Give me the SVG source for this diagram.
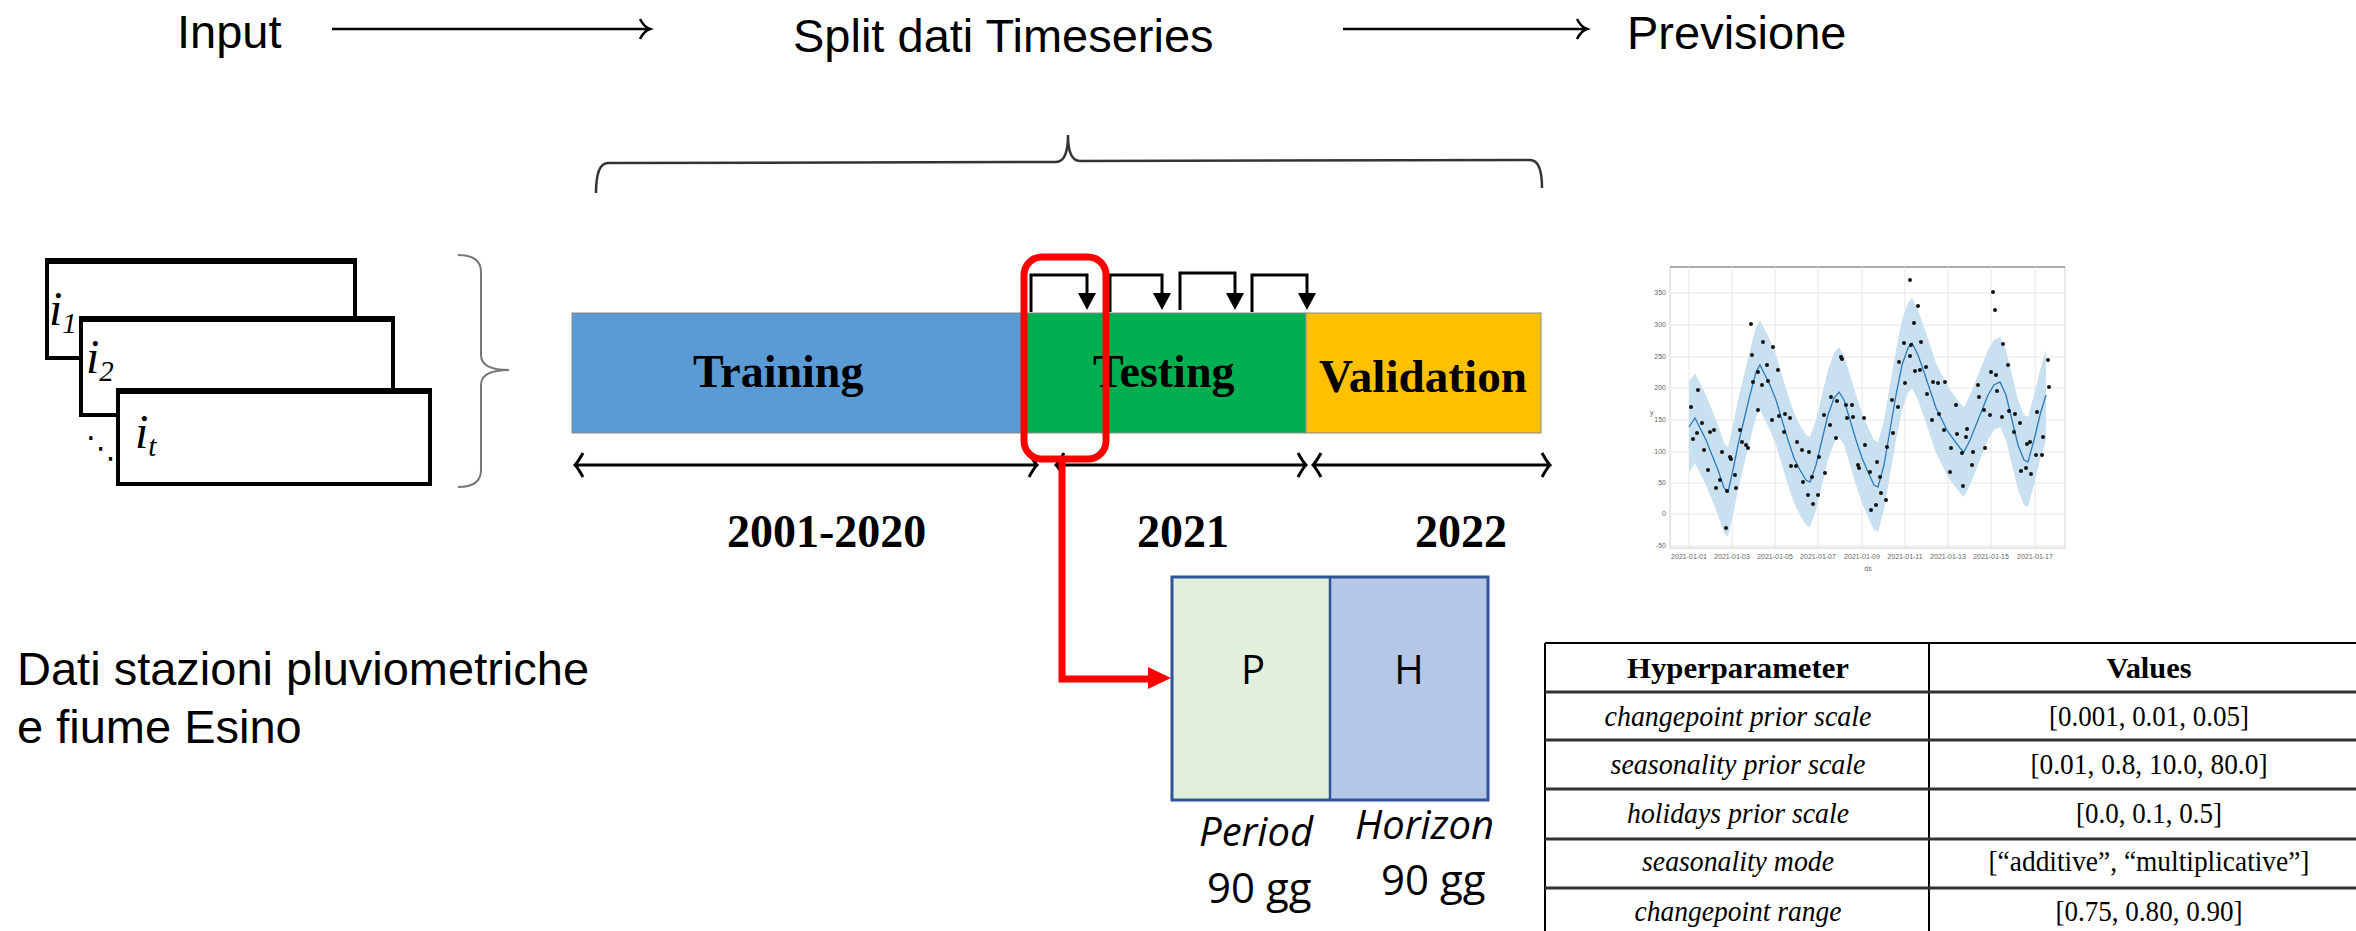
<svg xmlns="http://www.w3.org/2000/svg" width="2356" height="931" viewBox="0 0 2356 931">
<style>
.hdr{font-family:"Liberation Sans",Arial,sans-serif;font-size:47px;fill:#000}
.bar{font-family:"Liberation Serif","Times New Roman",serif;font-weight:bold;font-size:46px;fill:#000}
.ital{font-family:"Liberation Serif","Times New Roman",serif;font-style:italic;fill:#000}
.cal{font-family:"Open Sans","Liberation Sans",sans-serif;fill:#000}
.tb{font-family:"Liberation Serif","DejaVu Serif",serif;font-size:29px;fill:#000;text-anchor:middle}
.tick{font-family:"Liberation Sans",Arial,sans-serif;font-size:7px;fill:#666}
.thin{fill:none;stroke:#000;stroke-width:2.5}
.dbl{fill:none;stroke:#000;stroke-width:3}
.step{fill:none;stroke:#000;stroke-width:3}
.box{fill:#fff;stroke:#000;stroke-width:4}
.grid{stroke:#e6e6e6;stroke-width:1}
.tl{stroke:#333;stroke-width:3}
</style>
<rect width="2356" height="931" fill="#fff"/>

<g id="title-input"><text class="hdr" x="177" y="48">Input</text></g>
<g id="title-split"><text class="hdr" x="793" y="52">Split dati Timeseries</text></g>
<g id="title-previsione"><text class="hdr" x="1627" y="49">Previsione</text></g>

<g id="connectors">
  <path class="thin" d="M332,29 H650 M640,19 Q644,27 650,29 Q644,31 640,39"/>
  <path class="thin" d="M1343,29 H1587 M1577,19 Q1581,27 1587,29 Q1581,31 1577,39"/>
  <path fill="none" stroke="#333" stroke-width="2.5" d="M596,193 Q596,163 608,163 L1056,162 Q1068,162 1068,135 Q1068,161 1080,161 L1530,160 Q1542,160 1542,188"/>
  <path fill="none" stroke="#777" stroke-width="2" d="M458,255 Q481,255 481,272 L481,355 Q481,370 509,370 Q481,370 481,385 L481,470 Q481,487 458,487"/>
  <path class="dbl" d="M575,465 H1037 M583,453 Q578,462 575,465 Q578,468 583,477 M1029,453 Q1034,462 1037,465 Q1034,468 1029,477"/>
  <path class="dbl" d="M1056,465 H1306 M1064,453 Q1059,462 1056,465 Q1059,468 1064,477 M1298,453 Q1303,462 1306,465 Q1303,468 1298,477"/>
  <path class="dbl" d="M1313,465 H1550 M1321,453 Q1316,462 1313,465 Q1316,468 1321,477 M1542,453 Q1547,462 1550,465 Q1547,468 1542,477"/>
</g>

<g id="input-stack">
  <rect class="box" x="47" y="260" width="308" height="98"/>
  <line x1="45" y1="261" x2="357" y2="261" stroke="#000" stroke-width="6"/>
  <rect class="box" x="81" y="318" width="312" height="97"/>
  <line x1="79" y1="319" x2="395" y2="319" stroke="#000" stroke-width="6"/>
  <rect class="box" x="118" y="390" width="312" height="94"/>
  <line x1="116" y1="391" x2="432" y2="391" stroke="#000" stroke-width="6"/>
  <text class="ital" x="49" y="325" font-size="48">i<tspan font-size="29" dy="8">1</tspan></text>
  <text class="ital" x="86" y="373" font-size="48">i<tspan font-size="29" dy="8">2</tspan></text>
  <text class="ital" x="135" y="448" font-size="48">i<tspan font-size="29" dy="8">t</tspan></text>
  <text x="86" y="458" font-family="DejaVu Sans,sans-serif" font-size="30">⋱</text>
</g>

<g id="timeline-bar">
  <rect id="training" x="572" y="313" width="454" height="120" fill="#5B9BD5" stroke="#8a8a8a" stroke-width="1"/>
  <rect id="testing" x="1026" y="313" width="280" height="120" fill="#00B050" stroke="#8a8a8a" stroke-width="1"/>
  <rect id="validation" x="1306" y="313" width="235" height="120" fill="#FFC000" stroke="#8a8a8a" stroke-width="1"/>
  <text class="bar" x="693" y="387">Training</text>
  <text class="bar" x="1093" y="387">Testing</text>
  <text class="bar" x="1319" y="392" textLength="208" lengthAdjust="spacingAndGlyphs">Validation</text>
</g>

<g id="step-arrows">
  <path class="step" d="M1031,312 V275 H1087 V294"/><path d="M1078,293 H1096 L1087,310 Z"/>
  <path class="step" d="M1110,312 V275 H1162 V294"/><path d="M1153,293 H1171 L1162,310 Z"/>
  <path class="step" d="M1180,310 V273 H1235 V294"/><path d="M1226,293 H1244 L1235,310 Z"/>
  <path class="step" d="M1252,312 V275 H1307 V294"/><path d="M1298,293 H1316 L1307,310 Z"/>
</g>

<g id="years">
  <text class="bar" x="727" y="547">2001-2020</text>
  <text class="bar" x="1137" y="547">2021</text>
  <text class="bar" x="1415" y="547">2022</text>
</g>

<g id="red-window">
  <rect x="1024" y="257" width="82" height="202" rx="18" fill="none" stroke="#FF0000" stroke-width="7"/>
</g>
<g id="red-connector">
  <path d="M1062,459 V679 H1150" fill="none" stroke="#FF0000" stroke-width="7"/>
  <path d="M1148,667 L1171,678 L1148,689 Z" fill="#FF0000"/>
</g>

<g id="period-horizon">
  <rect x="1172" y="577" width="158" height="223" fill="#E2EFDA"/>
  <rect x="1330" y="577" width="158" height="223" fill="#B4C7E7"/>
  <rect x="1172" y="577" width="316" height="223" fill="none" stroke="#2F5597" stroke-width="3"/>
  <line x1="1330" y1="577" x2="1330" y2="800" stroke="#2F5597" stroke-width="2.5"/>
  <text class="cal" x="1253" y="684" font-size="40" text-anchor="middle">P</text>
  <text class="cal" x="1409" y="684" font-size="40" text-anchor="middle">H</text>
  <text class="cal" x="1199" y="846" font-size="40" font-style="italic">Period</text>
  <text class="cal" x="1355" y="839" font-size="40" font-style="italic">Horizon</text>
  <text class="cal" x="1207" y="903" font-size="42">90 gg</text>
  <text class="cal" x="1381" y="895" font-size="42">90 gg</text>
</g>

<g id="source-label">
  <text class="hdr" x="17" y="685">Dati stazioni pluviometriche</text>
  <text class="hdr" x="17" y="743">e fiume Esino</text>
</g>

<g id="forecast-plot">
  <rect x="1670" y="267" width="395" height="281" fill="#fff" stroke="#d0d0d0" stroke-width="1"/>
  <line x1="1670" y1="267" x2="2065" y2="267" stroke="#aaa" stroke-width="2"/>
  <g class="grid">
    <line x1="1670" y1="293" x2="2065" y2="293"/><line x1="1670" y1="325" x2="2065" y2="325"/>
    <line x1="1670" y1="357" x2="2065" y2="357"/><line x1="1670" y1="388" x2="2065" y2="388"/>
    <line x1="1670" y1="420" x2="2065" y2="420"/><line x1="1670" y1="452" x2="2065" y2="452"/>
    <line x1="1670" y1="483" x2="2065" y2="483"/><line x1="1670" y1="514" x2="2065" y2="514"/>
    <line x1="1670" y1="546" x2="2065" y2="546"/>
    <line x1="1689" y1="267" x2="1689" y2="548"/><line x1="1732" y1="267" x2="1732" y2="548"/>
    <line x1="1775" y1="267" x2="1775" y2="548"/><line x1="1818" y1="267" x2="1818" y2="548"/>
    <line x1="1862" y1="267" x2="1862" y2="548"/><line x1="1905" y1="267" x2="1905" y2="548"/>
    <line x1="1948" y1="267" x2="1948" y2="548"/><line x1="1991" y1="267" x2="1991" y2="548"/>
    <line x1="2035" y1="267" x2="2035" y2="548"/>
  </g>
  <g text-anchor="end" class="tick">
    <text x="1666" y="295">350</text><text x="1666" y="327">300</text><text x="1666" y="359">250</text>
    <text x="1666" y="390">200</text><text x="1666" y="422">150</text><text x="1666" y="454">100</text>
    <text x="1666" y="485">50</text><text x="1666" y="516">0</text><text x="1666" y="548">-50</text>
  </g>
  <text class="tick" x="1650" y="415">y</text>
  <g text-anchor="middle" class="tick">
    <text x="1689" y="559">2021-01-01</text><text x="1732" y="559">2021-01-03</text><text x="1775" y="559">2021-01-05</text>
    <text x="1818" y="559">2021-01-07</text><text x="1862" y="559">2021-01-09</text><text x="1905" y="559">2021-01-11</text>
    <text x="1948" y="559">2021-01-13</text><text x="1991" y="559">2021-01-15</text><text x="2035" y="559">2021-01-17</text>
    <text x="1868" y="571">ds</text>
  </g>
  <polygon fill="#C9E0F1" points="1689,382 1695,373 1700,383 1706,395 1712,410 1718,425 1724,443 1728,447 1733,425 1738,400 1744,375 1750,350 1756,327 1760,320 1765,330 1770,340 1776,355 1782,375 1788,395 1794,413 1800,425 1806,435 1810,437 1816,420 1822,395 1828,370 1834,353 1839,347 1844,355 1850,375 1856,395 1862,413 1868,427 1874,440 1878,442 1884,420 1890,385 1896,350 1902,320 1908,303 1912,298 1918,310 1924,327 1930,345 1936,363 1942,375 1948,387 1954,395 1960,403 1964,407 1970,395 1976,380 1982,365 1988,350 1994,340 2000,337 2006,350 2012,375 2018,400 2024,415 2028,417 2034,395 2040,370 2046,350 2046,440 2040,460 2034,485 2028,507 2024,505 2018,490 2012,465 2006,440 2000,427 1994,430 1988,440 1982,455 1976,470 1970,485 1964,497 1960,493 1954,485 1948,477 1942,465 1936,453 1930,435 1924,417 1918,400 1912,388 1908,393 1902,410 1896,440 1890,475 1884,510 1878,532 1874,530 1868,517 1862,503 1856,485 1850,465 1844,445 1839,437 1834,443 1828,460 1822,485 1816,510 1810,527 1806,525 1800,515 1794,503 1788,485 1782,465 1776,445 1770,430 1765,420 1760,410 1756,417 1750,440 1744,465 1738,490 1733,515 1728,537 1724,533 1718,515 1712,500 1706,485 1700,473 1695,463 1689,472"/>
  <polyline fill="none" stroke="#2B7BBA" stroke-width="1.3" points="1689,427 1695,418 1700,428 1706,440 1712,455 1718,470 1724,488 1728,492 1733,470 1738,445 1744,420 1750,395 1756,372 1760,365 1765,375 1770,385 1776,400 1782,420 1788,440 1794,458 1800,470 1806,480 1810,482 1816,465 1822,440 1828,415 1834,398 1839,392 1844,400 1850,420 1856,440 1862,458 1868,472 1874,485 1878,487 1884,465 1890,430 1896,395 1902,365 1908,348 1912,343 1918,355 1924,372 1930,390 1936,408 1942,420 1948,432 1954,440 1960,448 1964,452 1970,440 1976,425 1982,410 1988,395 1994,385 2000,382 2006,395 2012,420 2018,445 2024,460 2028,462 2034,440 2040,415 2046,395"/>
  <g fill="#111">
    <circle cx="1691" cy="407" r="2"/><circle cx="1697" cy="433" r="2"/><circle cx="1702" cy="423" r="2"/><circle cx="1708" cy="470" r="2"/>
    <circle cx="1714" cy="430" r="2"/><circle cx="1720" cy="480" r="2"/><circle cx="1726" cy="528" r="2"/><circle cx="1730" cy="457" r="2"/>
    <circle cx="1735" cy="475" r="2"/><circle cx="1740" cy="430" r="2"/><circle cx="1746" cy="445" r="2"/><circle cx="1752" cy="355" r="2"/>
    <circle cx="1758" cy="372" r="2"/><circle cx="1762" cy="385" r="2"/><circle cx="1767" cy="365" r="2"/><circle cx="1772" cy="420" r="2"/>
    <circle cx="1778" cy="370" r="2"/><circle cx="1784" cy="432" r="2"/><circle cx="1790" cy="418" r="2"/><circle cx="1796" cy="466" r="2"/>
    <circle cx="1802" cy="450" r="2"/><circle cx="1808" cy="495" r="2"/><circle cx="1812" cy="477" r="2"/><circle cx="1818" cy="495" r="2"/>
    <circle cx="1824" cy="415" r="2"/><circle cx="1830" cy="425" r="2"/><circle cx="1836" cy="438" r="2"/><circle cx="1841" cy="357" r="2"/>
    <circle cx="1846" cy="405" r="2"/><circle cx="1852" cy="405" r="2"/><circle cx="1858" cy="465" r="2"/><circle cx="1864" cy="418" r="2"/>
    <circle cx="1870" cy="472" r="2"/><circle cx="1876" cy="505" r="2"/><circle cx="1880" cy="477" r="2"/><circle cx="1886" cy="500" r="2"/>
    <circle cx="1892" cy="400" r="2"/><circle cx="1898" cy="407" r="2"/><circle cx="1904" cy="343" r="2"/><circle cx="1910" cy="356" r="2"/>
    <circle cx="1914" cy="323" r="2"/><circle cx="1920" cy="370" r="2"/><circle cx="1926" cy="367" r="2"/><circle cx="1932" cy="420" r="2"/>
    <circle cx="1938" cy="383" r="2"/><circle cx="1944" cy="430" r="2"/><circle cx="1950" cy="472" r="2"/><circle cx="1956" cy="405" r="2"/>
    <circle cx="1962" cy="453" r="2"/><circle cx="1966" cy="437" r="2"/><circle cx="1972" cy="465" r="2"/><circle cx="1978" cy="385" r="2"/>
    <circle cx="1984" cy="410" r="2"/><circle cx="1990" cy="415" r="2"/><circle cx="1996" cy="375" r="2"/><circle cx="2002" cy="417" r="2"/>
    <circle cx="2008" cy="365" r="2"/><circle cx="2014" cy="432" r="2"/><circle cx="2020" cy="423" r="2"/><circle cx="2026" cy="468" r="2"/>
    <circle cx="2030" cy="442" r="2"/><circle cx="2036" cy="455" r="2"/><circle cx="2042" cy="455" r="2"/><circle cx="2048" cy="360" r="2"/>
    <circle cx="1693" cy="439" r="2"/><circle cx="1698" cy="390" r="2"/><circle cx="1704" cy="450" r="2"/><circle cx="1710" cy="432" r="2"/>
    <circle cx="1716" cy="488" r="2"/><circle cx="1722" cy="452" r="2"/><circle cx="1727" cy="491" r="2"/><circle cx="1731" cy="459" r="2"/>
    <circle cx="1736" cy="488" r="2"/><circle cx="1742" cy="442" r="2"/><circle cx="1748" cy="448" r="2"/><circle cx="1753" cy="382" r="2"/>
    <circle cx="1758" cy="410" r="2"/><circle cx="1763" cy="342" r="2"/><circle cx="1768" cy="381" r="2"/><circle cx="1773" cy="347" r="2"/>
    <circle cx="1779" cy="416" r="2"/><circle cx="1785" cy="414" r="2"/><circle cx="1791" cy="466" r="2"/><circle cx="1797" cy="442" r="2"/>
    <circle cx="1803" cy="482" r="2"/><circle cx="1809" cy="452" r="2"/><circle cx="1813" cy="504" r="2"/><circle cx="1819" cy="457" r="2"/>
    <circle cx="1825" cy="473" r="2"/><circle cx="1831" cy="397" r="2"/><circle cx="1837" cy="401" r="2"/><circle cx="1842" cy="359" r="2"/>
    <circle cx="1847" cy="418" r="2"/><circle cx="1853" cy="417" r="2"/><circle cx="1859" cy="468" r="2"/><circle cx="1865" cy="445" r="2"/>
    <circle cx="1871" cy="510" r="2"/><circle cx="1877" cy="462" r="2"/><circle cx="1881" cy="493" r="2"/><circle cx="1887" cy="447" r="2"/>
    <circle cx="1893" cy="433" r="2"/><circle cx="1899" cy="362" r="2"/><circle cx="1905" cy="383" r="2"/><circle cx="1911" cy="345" r="2"/>
    <circle cx="1915" cy="371" r="2"/><circle cx="1921" cy="342" r="2"/><circle cx="1927" cy="394" r="2"/><circle cx="1933" cy="382" r="2"/>
    <circle cx="1939" cy="414" r="2"/><circle cx="1945" cy="382" r="2"/><circle cx="1951" cy="448" r="2"/><circle cx="1957" cy="434" r="2"/>
    <circle cx="1963" cy="486" r="2"/><circle cx="1967" cy="429" r="2"/><circle cx="1973" cy="452" r="2"/><circle cx="1979" cy="397" r="2"/>
    <circle cx="1985" cy="448" r="2"/><circle cx="1991" cy="372" r="2"/><circle cx="1997" cy="391" r="2"/><circle cx="2003" cy="344" r="2"/>
    <circle cx="2009" cy="411" r="2"/><circle cx="2015" cy="414" r="2"/><circle cx="2021" cy="471" r="2"/><circle cx="2027" cy="444" r="2"/>
    <circle cx="2031" cy="474" r="2"/><circle cx="2037" cy="412" r="2"/><circle cx="2043" cy="437" r="2"/><circle cx="2049" cy="387" r="2"/>
    <circle cx="1910" cy="280" r="2"/><circle cx="1993" cy="292" r="2"/><circle cx="1751" cy="324" r="2"/><circle cx="1918" cy="306" r="2"/><circle cx="1995" cy="310" r="2"/>
  </g>
</g>

<g id="hyperparameter-table">
  <line x1="1545" y1="643" x2="2356" y2="643" stroke="#000" stroke-width="2"/>
  <line x1="1545" y1="643" x2="1545" y2="931" stroke="#000" stroke-width="2"/>
  <line x1="1929" y1="643" x2="1929" y2="931" stroke="#000" stroke-width="2"/>
  <line class="tl" x1="1545" y1="692" x2="2356" y2="692"/>
  <line class="tl" x1="1545" y1="740" x2="2356" y2="740"/>
  <line class="tl" x1="1545" y1="789" x2="2356" y2="789"/>
  <line class="tl" x1="1545" y1="839" x2="2356" y2="839"/>
  <line class="tl" x1="1545" y1="888" x2="2356" y2="888"/>
  <text class="tb" x="1738" y="678" font-weight="bold" textLength="222" lengthAdjust="spacingAndGlyphs">Hyperparameter</text>
  <text class="tb" x="2149" y="678" font-weight="bold" textLength="85" lengthAdjust="spacingAndGlyphs">Values</text>
  <text class="tb" x="1738" y="726" font-style="italic" textLength="267" lengthAdjust="spacingAndGlyphs">changepoint prior scale</text>
  <text class="tb" x="2149" y="726" textLength="200" lengthAdjust="spacingAndGlyphs">[0.001, 0.01, 0.05]</text>
  <text class="tb" x="1738" y="774" font-style="italic" textLength="255" lengthAdjust="spacingAndGlyphs">seasonality prior scale</text>
  <text class="tb" x="2149" y="774" textLength="237" lengthAdjust="spacingAndGlyphs">[0.01, 0.8, 10.0, 80.0]</text>
  <text class="tb" x="1738" y="823" font-style="italic" textLength="222" lengthAdjust="spacingAndGlyphs">holidays prior scale</text>
  <text class="tb" x="2149" y="823" textLength="146" lengthAdjust="spacingAndGlyphs">[0.0, 0.1, 0.5]</text>
  <text class="tb" x="1738" y="871" font-style="italic" textLength="192" lengthAdjust="spacingAndGlyphs">seasonality mode</text>
  <text class="tb" x="2149" y="871" textLength="321" lengthAdjust="spacingAndGlyphs">[“additive”, “multiplicative”]</text>
  <text class="tb" x="1738" y="921" font-style="italic" textLength="207" lengthAdjust="spacingAndGlyphs">changepoint range</text>
  <text class="tb" x="2149" y="921" textLength="187" lengthAdjust="spacingAndGlyphs">[0.75, 0.80, 0.90]</text>
</g>
</svg>
